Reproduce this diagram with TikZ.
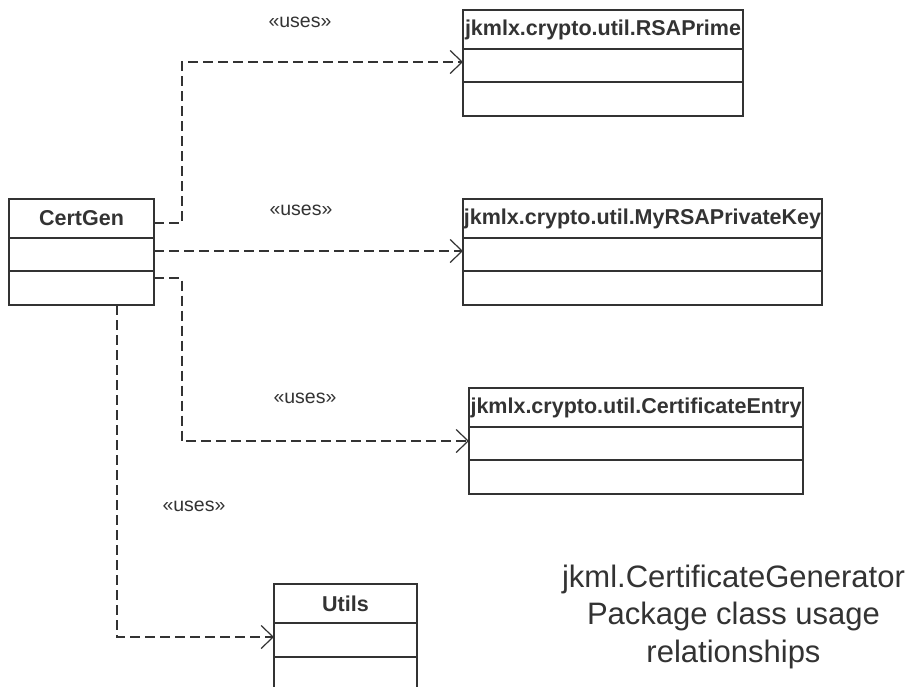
\documentclass[tikz,border=0pt]{standalone}
\usepackage{fontspec}
\setmainfont{Liberation Sans}
\usetikzlibrary{arrows.meta}
\definecolor{ink}{HTML}{333333}
\begin{document}
\begin{tikzpicture}[x=1pt,y=-1pt,
  compart/.style={draw=ink,line width=2pt,fill=white,inner sep=0pt,outer sep=0pt,anchor=center},
  classname/.style={compart,minimum height=39pt,text=ink,font=\fontsize{21.5}{24}\selectfont\bfseries},
  attrs/.style={compart,minimum height=33pt},
  ops/.style={compart,minimum height=34pt},
  uses/.style={draw=ink,line width=2pt,dash pattern=on 10pt off 5pt,
    -{Straight Barb[length=12pt,width=23pt,line width=1.2pt]}},
  stereo/.style={text=ink,font=\fontsize{19.5}{22}\selectfont,inner sep=0pt},
  caption/.style={text=ink,font=\fontsize{31}{37.5}\selectfont,align=center,inner sep=0pt}]
\fill[white] (0,0) rectangle (920,686);
\useasboundingbox (0,0) rectangle (920,686);

% CertGen
\node[classname,minimum width=145pt] (cgH) at (81.5,218.5) {CertGen};
\node[attrs,minimum width=145pt] (cgA) at (81.5,254.5) {};
\node[ops,minimum width=145pt] (cgO) at (81.5,288) {};

% jkmlx.crypto.util.RSAPrime
\node[classname,minimum width=280pt] (rsaH) at (603,29.5) {jkmlx.crypto.util.RSAPrime};
\node[attrs,minimum width=280pt] (rsaA) at (603,65.5) {};
\node[ops,minimum width=280pt] (rsaO) at (603,99) {};

% jkmlx.crypto.util.MyRSAPrivateKey
\node[classname,minimum width=359pt] (mykH) at (642.5,218.5) {jkmlx.crypto.util.MyRSAPrivateKey};
\node[attrs,minimum width=359pt] (mykA) at (642.5,254.5) {};
\node[ops,minimum width=359pt] (mykO) at (642.5,288) {};

% jkmlx.crypto.util.CertificateEntry
\node[classname,minimum width=334pt] (ceH) at (636,407.5) {jkmlx.crypto.util.CertificateEntry};
\node[attrs,minimum width=334pt] (ceA) at (636,443.5) {};
\node[ops,minimum width=334pt] (ceO) at (636,476.5) {};

% Utils
\node[classname,minimum width=143pt] (utH) at (345.5,603.5) {Utils};
\node[ops,minimum width=143pt] (utA) at (345.5,640) {};
\node[ops,minimum width=143pt] (utO) at (345.5,674) {};

% usage dependencies
\draw[uses] ([yshift=-4.5pt]cgH.east) -- ++(27.5,0) |- ([yshift=3.5pt]rsaA.west);
\draw[uses] ([yshift=3.5pt]cgA.east) -- ([yshift=3.5pt]mykA.west);
\draw[uses] ([yshift=10pt]cgO.east) -- ++(27.5,0) |- ([yshift=2.5pt]ceA.west);
\draw[uses] ([xshift=35.5pt]cgO.south) |- ([yshift=3pt]utA.west);

% stereotypes
\node[stereo] (u1) at (300,22) {«uses»};
\node[stereo] (u2) at (301,210) {«uses»};
\node[stereo] (u3) at (305,398) {«uses»};
\node[stereo] (u4) at (194,506) {«uses»};

% caption
\node[caption,anchor=north] (cap) at (733.5,564.5) {jkml.CertificateGenerator\\Package class usage\\relationships};
\end{tikzpicture}
\end{document}
